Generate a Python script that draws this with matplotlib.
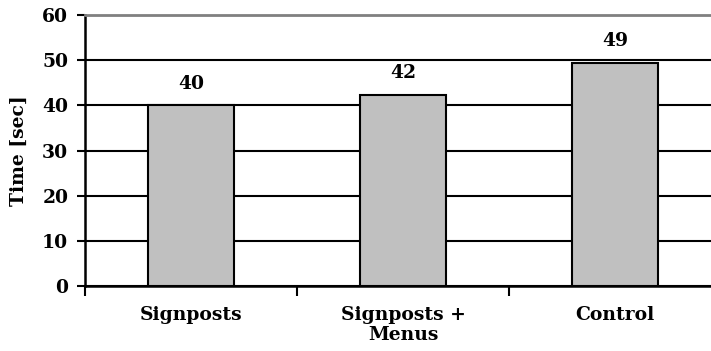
import matplotlib.pyplot as plt
import numpy as np

categories = ['Signposts', 'Signposts +\nMenus', 'Control']
times = [40.0, 42.4, 49.4]

plt.rcParams['font.family'] = ['DejaVu Serif']
plt.rcParams['font.weight'] = 'bold'

fig = plt.figure(figsize=(7.11, 3.51), dpi=100)
# plot area runs past the right edge of the figure
ax = fig.add_axes([0.1195, 0.185, 0.8945, 0.772])

x = np.arange(len(categories))
ax.bar(x, times, width=0.405, color='#c0c0c0', edgecolor='black', linewidth=1.5, zorder=3)

for xi, t in zip(x, times):
    ax.annotate('%.0f' % t, (xi, t), xytext=(0, 9), textcoords='offset points',
                ha='center', va='bottom', fontsize=13.5, fontweight='bold')

ax.set_xlim(-0.5, 2.5)
ax.set_ylim(0, 60)
ax.set_yticks(np.arange(0, 61, 10))
ax.yaxis.grid(True, color='black', linewidth=1.5, zorder=0)
ax.set_axisbelow(True)

ax.set_xticks(x)
ax.set_xticklabels(categories, fontsize=13.5, fontweight='bold', linespacing=1.2)
ax.set_xticks(np.arange(-0.5, 3, 1), minor=True)
ax.tick_params(axis='x', which='major', length=0, pad=14)
ax.tick_params(axis='x', which='minor', length=7, width=1.5, direction='out')
ax.tick_params(axis='y', length=6, width=1.5, direction='out', labelsize=13.5, pad=6)

for side in ['left', 'bottom']:
    ax.spines[side].set_linewidth(1.8)
ax.spines['right'].set_visible(False)
ax.spines['top'].set_color('#808080')
ax.spines['top'].set_linewidth(2)

ax.set_ylabel('Time [sec]', fontsize=13.5, fontweight='bold', labelpad=10)

fig.savefig('out.png', dpi=100)
